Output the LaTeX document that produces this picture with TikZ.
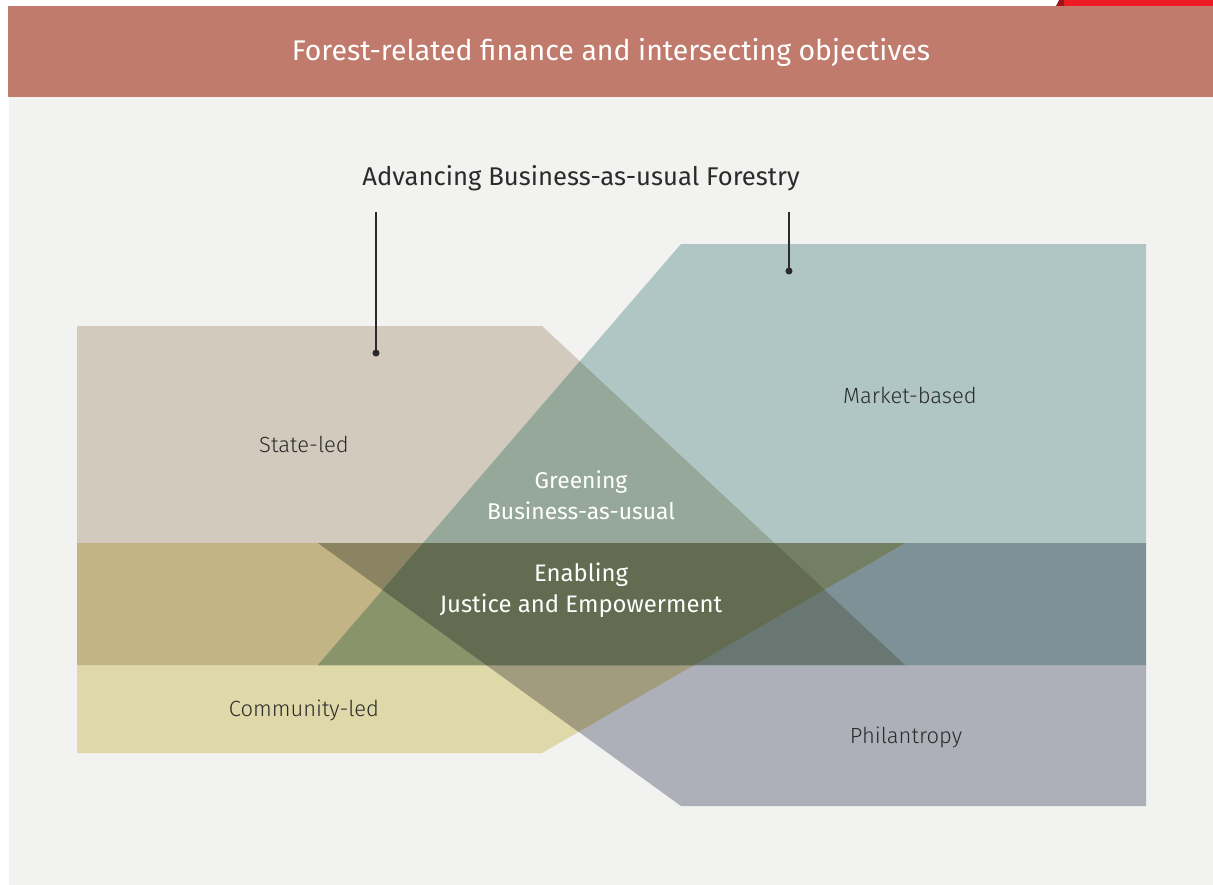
\documentclass[tikz,border=0pt]{standalone}
\usepackage{fontspec}
\setmainfont{Fira Sans}
\newfontfamily\lightfont{Fira Sans Light}
\newfontfamily\mediumfont{Fira Sans Medium}
\usetikzlibrary{positioning}

\definecolor{pagegray}{HTML}{F2F2F0}
\definecolor{headerbrown}{HTML}{C07B6C}
\definecolor{tabred}{HTML}{ED1C24}
\definecolor{tabdark}{HTML}{A0121A}
\definecolor{stategray}{HTML}{D2CABD}
\definecolor{marketteal}{HTML}{AFC6C4}
\definecolor{communityyellow}{HTML}{DFD8A8}
\definecolor{philgray}{HTML}{ADB0B9}
\definecolor{scmix}{HTML}{C2B485}
\definecolor{smmix}{HTML}{96A89A}
\definecolor{cpmix}{HTML}{A09C7D}
\definecolor{mpmix}{HTML}{7E9196}
\definecolor{scpmix}{HTML}{8A8462}
\definecolor{scmmix}{HTML}{89946B}
\definecolor{cmpmix}{HTML}{737F63}
\definecolor{smpmix}{HTML}{687772}
\definecolor{allmix}{HTML}{636C50}
\definecolor{textdark}{HTML}{2B2B2B}

\newcommand{\stateshape}{(77,326) -- (542,326) -- (905,665) -- (77,665) -- cycle}
\newcommand{\communityshape}{(77,543) -- (905,543) -- (542,753) -- (77,753) -- cycle}
\newcommand{\marketshape}{(681,244) -- (1146,244) -- (1146,665) -- (318,665) -- cycle}
\newcommand{\philshape}{(318,543) -- (1146,543) -- (1146,806) -- (681,806) -- cycle}

\tikzstyle{areatext} = [text=textdark, font=\lightfont\fontsize{12.5}{15}\selectfont]
\tikzstyle{overlaptext} = [text=white, font=\fontsize{13}{17.6}\selectfont, align=center]
\tikzstyle{leader} = [line width=0.6pt, draw=textdark]
\tikzstyle{leaderdot} = [circle, fill=textdark, inner sep=0pt, minimum size=4pt]

\begin{document}
\begin{tikzpicture}[x=0.02cm, y=-0.02cm]

% page, header and tab
\useasboundingbox (0,0) rectangle (1213,885);
\fill[white] (0,0) rectangle (1213,885);
\fill[pagegray] (9,97) rectangle (1213,885);
\fill[headerbrown] (8,6) rectangle (1213,97);
\fill[tabred] (1064,0) rectangle (1213,6);
\fill[tabdark] (1056,6) -- (1059,0) -- (1064,0) -- (1064,6) -- cycle;

% the four sources
\fill[stategray] \stateshape;
\fill[communityyellow] \communityshape;
\fill[marketteal] \marketshape;
\fill[philgray] \philshape;

% two-way overlaps
\begin{scope} \clip \stateshape; \fill[scmix] \communityshape; \end{scope}
\begin{scope} \clip \stateshape; \fill[smmix] \marketshape; \end{scope}
\begin{scope} \clip \communityshape; \fill[cpmix] \philshape; \end{scope}
\begin{scope} \clip \marketshape; \fill[mpmix] \philshape; \end{scope}

% three-way overlaps
\begin{scope} \clip \stateshape; \clip \communityshape; \fill[scpmix] \philshape; \end{scope}
\begin{scope} \clip \stateshape; \clip \communityshape; \fill[scmmix] \marketshape; \end{scope}
\begin{scope} \clip \communityshape; \clip \marketshape; \fill[cmpmix] \philshape; \end{scope}
\begin{scope} \clip \stateshape; \clip \marketshape; \fill[smpmix] \philshape; \end{scope}

% all four
\begin{scope} \clip \stateshape; \clip \communityshape; \clip \marketshape; \fill[allmix] \philshape; \end{scope}

% titles
\node (title) at (611,52) [text=white, font=\fontsize{16.2}{19}\selectfont] {Forest-related finance and intersecting objectives};
\node (heading) at (581,178) [text=textdark, font=\fontsize{14.6}{17}\selectfont] {Advancing Business-as-usual Forestry};

% leaders
\coordinate (statetop) at (376,212);
\node (statedot) [leaderdot] at (376,353) {};
\coordinate (markettop) at (789,212);
\node (marketdot) [leaderdot] at (789,271) {};
\draw[leader] (statetop) -- (statedot.center);
\draw[leader] (markettop) -- (marketdot.center);

% labels
\node (state) [areatext] at (304,444) {State-led};
\node (market) [areatext] at (910,395) {Market-based};
\node (community) [areatext] at (304,710) {Community-led};
\node (philantropy) [areatext] at (906,737) {Philantropy};
\node (greening) [overlaptext] at (581,495) {Greening\\Business-as-usual};
\node (enabling) [overlaptext, font=\fontsize{13.6}{17.6}\selectfont] at (581,590) {Enabling\\Justice and Empowerment};

\end{tikzpicture}
\end{document}
